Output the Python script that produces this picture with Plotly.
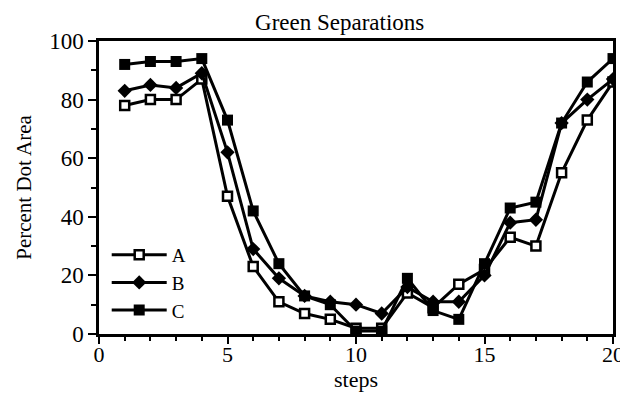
import plotly.graph_objects as go

steps = list(range(1, 21))
series_a = [78, 80, 80, 87, 47, 23, 11, 7, 5, 2, 2, 14, 9, 17, 22, 33, 30, 55, 73, 86]
series_b = [83, 85, 84, 89, 62, 29, 19, 13, 11, 10, 7, 16, 11, 11, 20, 38, 39, 72, 80, 87]
series_c = [92, 93, 93, 94, 73, 42, 24, 13, 10, 1, 1, 19, 8, 5, 24, 43, 45, 72, 86, 94]
names = ["A", "B", "C"]
title_text = "Green Separations"
x_title = "steps"
y_title = "Percent Dot Area"

FONT = "Liberation Serif"

markers = [
    dict(symbol="square", size=9, color="white", line=dict(width=2.5, color="black")),
    dict(symbol="diamond", size=11, color="black", line=dict(width=0, color="black")),
    dict(symbol="square", size=11, color="black", line=dict(width=0, color="black")),
]

fig = go.Figure()
for name, ys, mk in zip(names, [series_a, series_b, series_c], markers):
    fig.add_trace(go.Scatter(
        x=steps, y=ys, name=name, mode="lines+markers",
        line=dict(color="black", width=3),
        marker=mk,
    ))

# the page body adds an 8px margin, so the figure is 8px smaller and offset
fig.update_layout(
    width=620, height=390,
    margin=dict(l=91, r=15, t=33, b=64),
    paper_bgcolor="white", plot_bgcolor="white",
    font=dict(family=FONT, color="black", size=22),
    title=dict(text=title_text, x=0.535, xanchor="center", y=0.963, yanchor="middle",
               font=dict(family=FONT, size=23, color="black")),
    legend=dict(x=0.015, y=0.335, xanchor="left", yanchor="top", bgcolor="rgba(0,0,0,0)",
                font=dict(family=FONT, size=19, color="black"), itemwidth=55,
                tracegroupgap=0),
    showlegend=True,
)
fig.update_xaxes(
    range=[0, 20], dtick=5, tick0=0, ticks="outside", ticklen=7, tickwidth=2,
    tickcolor="black", showline=True, linecolor="black", linewidth=2.5, mirror=True,
    showgrid=False, zeroline=False, automargin=False, ticklabelstandoff=-8,
    minor=dict(dtick=1, ticks="outside", ticklen=4, tickwidth=1.5, tickcolor="black"),
    tickfont=dict(family=FONT, size=22),
    title=dict(text=x_title, standoff=0, font=dict(family=FONT, size=22)),
)
fig.update_yaxes(
    range=[0, 100], dtick=20, tick0=0, ticks="outside", ticklen=8, tickwidth=2,
    tickcolor="black", showline=True, linecolor="black", linewidth=2.5, mirror=True,
    showgrid=False, zeroline=False, automargin=False,
    minor=dict(dtick=10, ticks="outside", ticklen=5, tickwidth=1.5, tickcolor="black"),
    tickfont=dict(family=FONT, size=23),
    title=dict(text=y_title, standoff=12, font=dict(family=FONT, size=21)),
)

fig.write_html("out.html")
